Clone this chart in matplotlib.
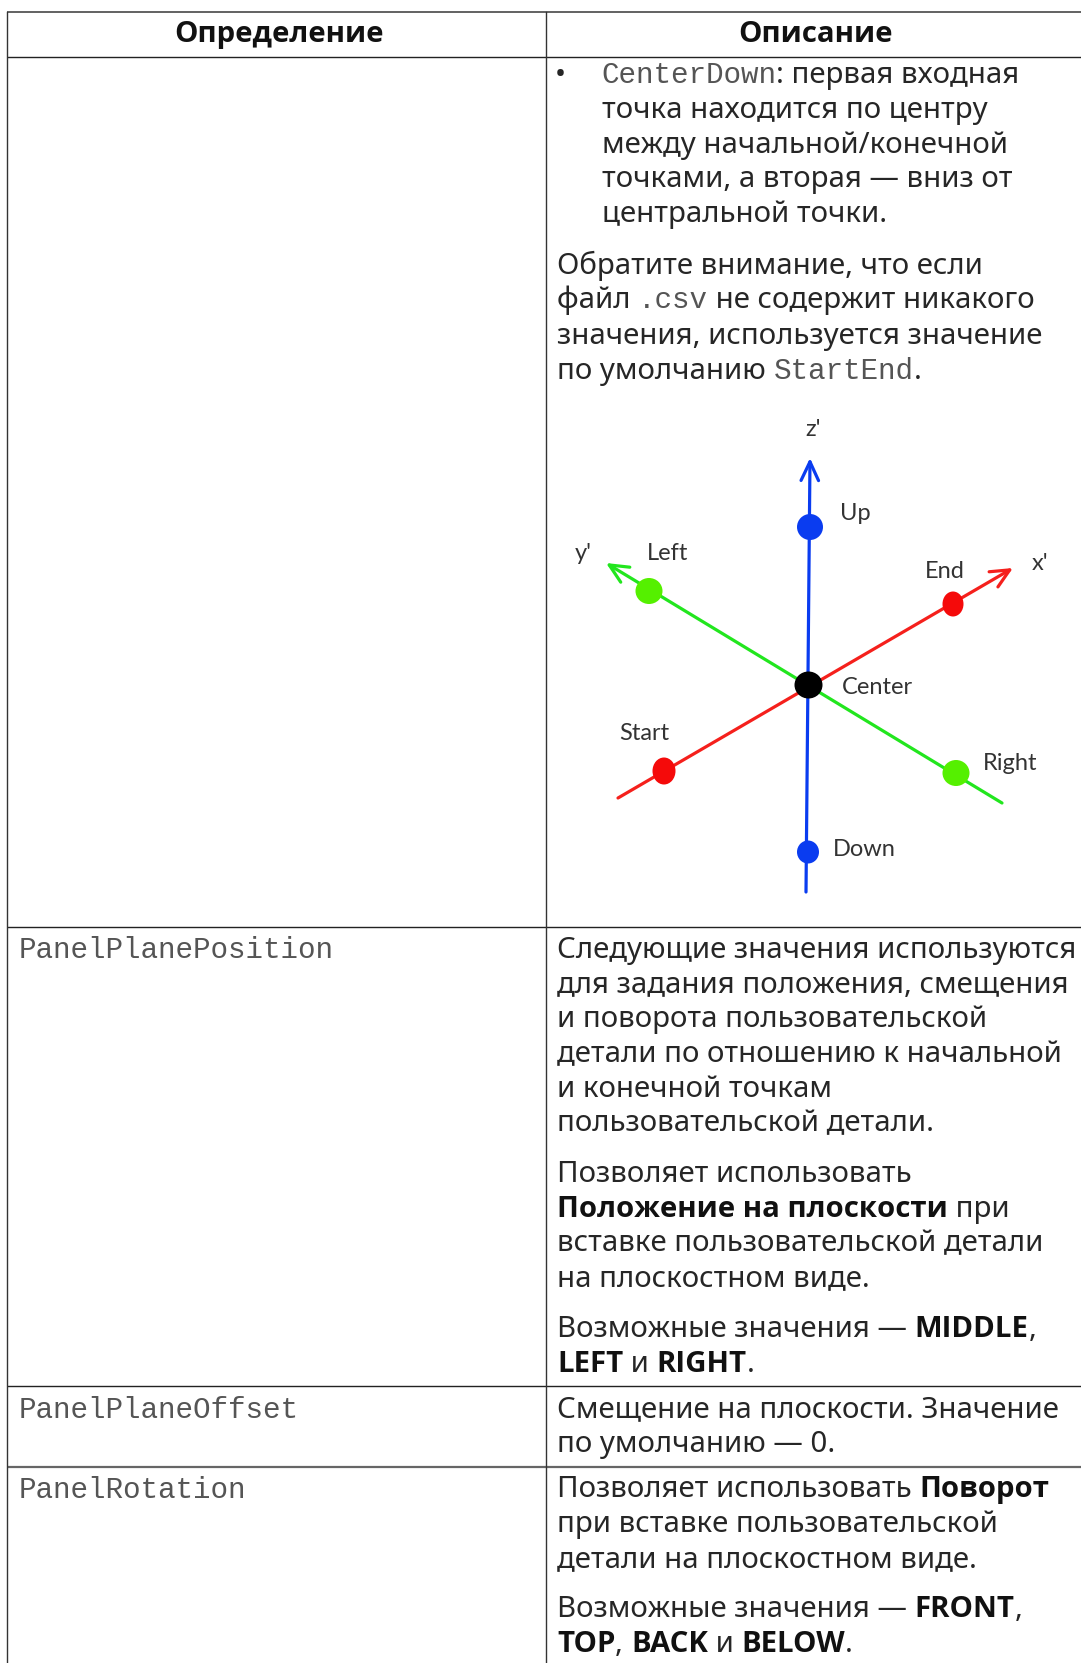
"""Table page with the axes diagram, drawn in pixel coordinates."""
import matplotlib
matplotlib.use('Agg')
import matplotlib.pyplot as plt
from matplotlib.patches import Ellipse

W, H = 1081, 1663

headers = ['Определение', 'Описание']
header_x = [278.5, 816]
header_y = 42

# horizontal rules: y, colour, width
rules_y = [12, 57, 927, 1386, 1467]
rules_color = ['#555555', '#222222', '#222222', '#222222', '#666666']
rules_lw = [1.3, 1.0, 1.0, 1.0, 1.6]
left_x = 7
divider_x = 545.5

left_names = ['PanelPlanePosition', 'PanelPlaneOffset', 'PanelRotation']
left_names_y = [958, 1418, 1498]

# r = regular, b = bold, m = monospace
right_lines = [
    (601.5, 83, [('CenterDown', 'm'), (': первая входная', 'r')]),
    (601.5, 118, [('точка находится по центру', 'r')]),
    (601.5, 153, [('между начальной/конечной', 'r')]),
    (601.5, 187, [('точками, а вторая — вниз от', 'r')]),
    (601.5, 222, [('центральной точки.', 'r')]),
    (557, 274, [('Обратите внимание, что если', 'r')]),
    (557, 308, [('файл ', 'r'), ('.csv', 'm'), (' не содержит никакого', 'r')]),
    (557, 344, [('значения, используется значение', 'r')]),
    (557, 379, [('по умолчанию ', 'r'), ('StartEnd', 'm'), ('.', 'r')]),
    (557, 958, [('Следующие значения используются', 'r')]),
    (557, 993, [('для задания положения, смещения', 'r')]),
    (557, 1027, [('и поворота пользовательской', 'r')]),
    (557, 1062, [('детали по отношению к начальной', 'r')]),
    (557, 1097, [('и конечной точкам', 'r')]),
    (557, 1131, [('пользовательской детали.', 'r')]),
    (557, 1182, [('Позволяет использовать', 'r')]),
    (557, 1217, [('Положение на плоскости', 'b'), (' при', 'r')]),
    (557, 1251, [('вставке пользовательской детали', 'r')]),
    (557, 1286, [('на плоскостном виде.', 'r')]),
    (557, 1337, [('Возможные значения — ', 'r'), ('MIDDLE', 'b'), (',', 'r')]),
    (557, 1372, [('LEFT', 'b'), (' и ', 'r'), ('RIGHT', 'b'), ('.', 'r')]),
    (557, 1417, [('Смещение на плоскости. Значение', 'r')]),
    (557, 1452, [('по умолчанию — 0.', 'r')]),
    (557, 1497, [('Позволяет использовать ', 'r'), ('Поворот', 'b')]),
    (557, 1532, [('при вставке пользовательской', 'r')]),
    (557, 1567, [('детали на плоскостном виде.', 'r')]),
    (557, 1617, [('Возможные значения — ', 'r'), ('FRONT', 'b'), (',', 'r')]),
    (557, 1652, [('TOP', 'b'), (', ', 'r'), ('BACK', 'b'), (' и ', 'r'), ('BELOW', 'b'), ('.', 'r')]),
]

# diagram axes: start, end, colour
axis_x0 = [806, 1002, 618]
axis_y0 = [892, 803, 798]
axis_x1 = [810, 606, 1013]
axis_y1 = [458, 563, 568]
axis_colors = ['#0a3cf0', '#22e61e', '#f5201c']

dot_x = [810, 808, 649, 956, 664, 953, 808.5]
dot_y = [527, 852, 591, 773, 771, 604, 685]
dot_w = [26, 22, 27, 27, 23, 21, 28]
dot_h = [26, 23, 26, 26, 27, 25, 27]
dot_colors = ['#0a3cf0', '#0a3cf0', '#55f000', '#55f000', '#f50a0a', '#f50a0a', '#000000']

label_text = ["z'", "y'", 'Left', 'Up', 'End', "x'", 'Center', 'Start', 'Right', 'Down']
label_x = [813, 583, 668, 855, 945, 1040, 877, 644, 1010, 864]
label_y = [430, 553, 554, 514, 571, 564, 687, 734, 763, 849]

TEXT = '#262626'
MONO = '#555555'
STYLES = {
    'r': dict(family='Noto Sans', color=TEXT, size=21.2),
    'b': dict(family='Open Sans', color='#111111', size=21.2, weight='bold'),
    'm': dict(family='Liberation Mono', color=MONO, size=21.1),
}

fig = plt.figure(figsize=(W / 100, H / 100), dpi=100)
ax = fig.add_axes([0, 0, 1, 1])
ax.set_xlim(0, W)
ax.set_ylim(H, 0)
ax.axis('off')
renderer = fig.canvas.get_renderer()


def text_advance(s, style):
    # advance width in pixels, spaces included
    probe = ax.text(0, 0, '|' + s + '|', **STYLES[style])
    full = probe.get_window_extent(renderer).width
    probe.set_text('||')
    bars = probe.get_window_extent(renderer).width
    probe.remove()
    return full - bars


def draw_runs(x, y, runs):
    # place runs one after another on a shared baseline
    for s, style in runs:
        ax.text(x, y, s, va='baseline', ha='left', **STYLES[style])
        x += text_advance(s, style)


for y, c, lw in zip(rules_y, rules_color, rules_lw):
    ax.plot([left_x, W], [y, y], color=c, lw=lw, solid_capstyle='butt')
ax.plot([left_x, left_x], [rules_y[0], H], color='#333333', lw=1.0)
ax.plot([divider_x, divider_x], [rules_y[0], H], color='#333333', lw=1.0)

for s, x in zip(headers, header_x):
    ax.text(x, header_y, s, ha='center', va='baseline', **STYLES['b'])

for s, y in zip(left_names, left_names_y):
    ax.text(19, y, s, ha='left', va='baseline', **STYLES['m'])

ax.text(555, 83, '•', ha='left', va='baseline', **STYLES['r'])
for x, y, runs in right_lines:
    draw_runs(x, y, runs)

for x0, y0, x1, y1, c in zip(axis_x0, axis_y0, axis_x1, axis_y1, axis_colors):
    ax.annotate('', xy=(x1, y1), xytext=(x0, y0),
                arrowprops=dict(arrowstyle='->,head_length=0.75,head_width=0.35', color=c,
                                lw=2.3, mutation_scale=18, shrinkA=0, shrinkB=0))

for x, y, w, h, c in zip(dot_x, dot_y, dot_w, dot_h, dot_colors):
    ax.add_patch(Ellipse((x, y), w, h, facecolor=c, edgecolor='none', zorder=3))

for s, x, y in zip(label_text, label_x, label_y):
    ax.text(x, y, s, ha='center', va='center', family='Lato', size=17, color='#333333')

fig.savefig('out.png', dpi=100)
